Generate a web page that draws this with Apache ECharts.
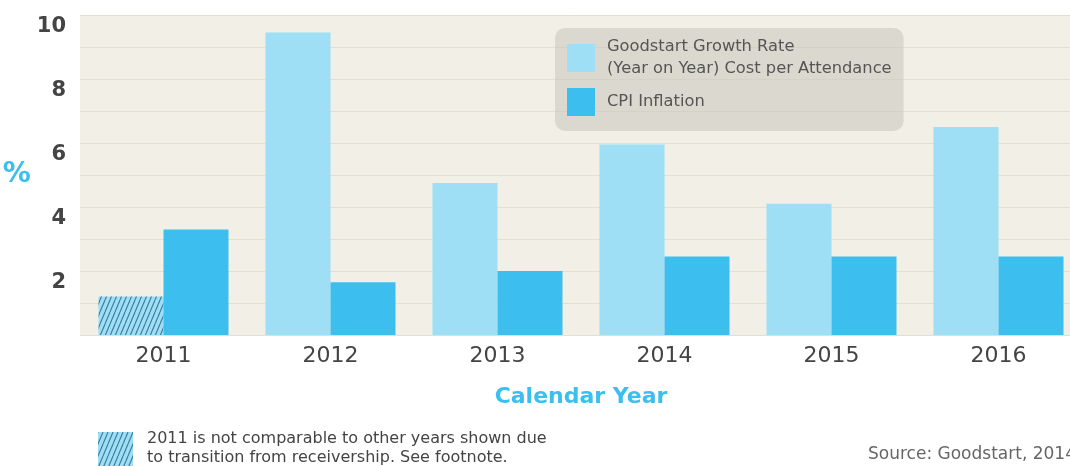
<!DOCTYPE html>
<html><head><meta charset="utf-8">
<script src="https://cdn.jsdelivr.net/npm/echarts@6/dist/echarts.min.js"></script>
<style>html,body{margin:0;padding:0;background:#fff}#c{width:1070px;height:466px}</style>
</head><body><div id="c"></div>
<script>
const years = ['2011','2012','2013','2014','2015','2016'];
const goodstartRate = [1.2, 9.45, 4.75, 5.95, 4.1, 6.5];
const cpiInflation = [3.3, 1.65, 2.0, 2.45, 2.45, 2.45];
const yTicks = [2, 4, 6, 8, 10];
const seriesNames = ['Goodstart Growth Rate', 'CPI Inflation'];

const FONT = 'DejaVu Sans';
function hatch() {
  const c = document.createElement('canvas');
  c.width = 5; c.height = 12;
  const g = c.getContext('2d');
  g.fillStyle = '#9edff6'; g.fillRect(0, 0, 5, 12);
  g.strokeStyle = '#3a7a9c'; g.lineWidth = 1.1;
  for (let i = -1; i <= 1; i++) {
    g.beginPath(); g.moveTo(i * 5, 12); g.lineTo(i * 5 + 5, 0); g.stroke();
  }
  return c;
}
const hatchCanvas = hatch();

const chart = echarts.init(document.getElementById('c'));
chart.setOption({
  animation: false,
  backgroundColor: '#ffffff',
  textStyle: { fontFamily: FONT },
  grid: { left: 80, top: 15, right: -12, height: 320, outerBoundsMode: 'none', show: true, backgroundColor: '#f1efe6', borderWidth: 0 },
  legend: {
    left: 555, top: 28, orient: 'vertical',
    itemWidth: 28, itemHeight: 28, itemGap: 8,
    padding: [8, 12, 15, 12],
    backgroundColor: 'rgba(200,198,188,0.55)', borderRadius: 10,
    icon: 'rect',
    textStyle: { color: '#555', fontSize: 16.3, lineHeight: 22, fontFamily: FONT, padding: [0, 0, 0, 7] },
    formatter: n => n === seriesNames[0] ? 'Goodstart Growth Rate\n(Year on Year) Cost per Attendance' : n,
    data: seriesNames
  },
  xAxis: {
    type: 'category', data: years,
    axisLine: { show: false }, axisTick: { show: false },
    axisLabel: { color: '#444', fontSize: 22, margin: 10, fontFamily: FONT },
    name: 'Calendar Year', nameLocation: 'middle', nameGap: 51,
    nameTextStyle: { color: '#3bbfee', fontSize: 22, fontWeight: 'bold', fontFamily: FONT }
  },
  yAxis: {
    type: 'value', min: 0, max: 10, interval: 1,
    axisLine: { show: false }, axisTick: { show: false },
    splitLine: { lineStyle: { color: '#e4e0cf', width: 1 } },
    axisLabel: {
      color: '#444', fontSize: 21, fontWeight: 'bold', margin: 14, fontFamily: FONT,
      verticalAlign: 'top', lineHeight: 24,
      formatter: v => yTicks.includes(v) ? String(v) : ''
    },
    name: '%', nameLocation: 'middle', nameRotate: 0, nameGap: 42,
    nameTextStyle: { color: '#3bbfee', fontSize: 28, fontWeight: 'bold', fontFamily: FONT, padding: [6, 0, 0, 0] }
  },
  series: [
    {
      name: seriesNames[0], type: 'bar', barWidth: 65, barGap: '0%',
      itemStyle: { color: '#9edff6' },
      data: goodstartRate.map((v, i) => i === 0 ? { value: v, itemStyle: { color: { image: hatchCanvas, repeat: 'repeat' } } } : v)
    },
    {
      name: seriesNames[1], type: 'bar', barWidth: 65,
      itemStyle: { color: '#3cbfee' },
      data: cpiInflation
    }
  ],
  graphic: [
    { type: 'rect', left: 98, top: 432, shape: { width: 35, height: 34 }, style: { fill: { image: hatchCanvas, repeat: 'repeat' } } },
    { type: 'text', left: 147, top: 429, style: { text: '2011 is not comparable to other years shown due\nto transition from receivership. See footnote.', fill: '#444', fontSize: 16, lineHeight: 19, fontFamily: FONT } },
    { type: 'text', left: 868, top: 446, style: { text: 'Source: Goodstart, 2014', fill: '#666', fontSize: 17, fontFamily: FONT } }
  ]
});
</script></body></html>
